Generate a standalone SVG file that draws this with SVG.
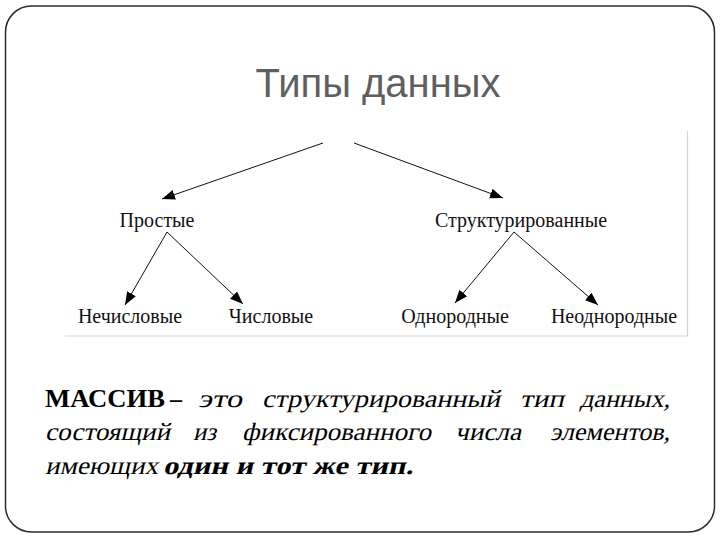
<svg xmlns="http://www.w3.org/2000/svg" width="720" height="540" viewBox="0 0 720 540">
<defs>
<style>
.frame{fill:#fff;stroke:#2b2b2b;stroke-width:1.5}
.title{font-family:"Liberation Sans",Arial,sans-serif;font-size:40px;fill:#5f5f5f}
.lbl{font-family:"Liberation Serif","Times New Roman",serif;font-size:20px;fill:#111;text-anchor:middle}
.edge{stroke:#111;stroke-width:1;fill:none;marker-end:url(#arr)}
.w{font-family:"Liberation Serif","Times New Roman",serif;font-size:25px;fill:#000}
.b{font-weight:bold}
</style>
<marker id="arr" markerUnits="userSpaceOnUse" markerWidth="14" markerHeight="12" refX="13" refY="5" orient="auto" viewBox="0 0 14 10">
<path d="M0,0 L13,5 L0,10 Z" fill="#000"/>
</marker>
</defs>
<rect class="frame" x="5.5" y="6" width="709" height="526" rx="26" ry="26"/>
<text class="title" x="378" y="97" text-anchor="middle">Типы данных</text>
<polyline points="65,336 687.5,336 687.5,131" fill="none" stroke="#d4d4d4" stroke-width="1.2"/>
<g id="connectors">
<line class="edge" x1="323" y1="143" x2="162" y2="199"/>
<line class="edge" x1="354" y1="143" x2="503" y2="198"/>
<line class="edge" x1="167" y1="232" x2="125" y2="305"/>
<line class="edge" x1="167" y1="232" x2="243" y2="304"/>
<line class="edge" x1="514" y1="232" x2="455" y2="303"/>
<line class="edge" x1="514" y1="232" x2="598" y2="305"/>
</g>
<g id="n-simple"><text class="lbl" x="157" y="227">Простые</text></g>
<g id="n-struct"><text class="lbl" x="521" y="227">Структурированные</text></g>
<g id="n-nonnum"><text class="lbl" x="130" y="323">Нечисловые</text></g>
<g id="n-num"><text class="lbl" x="271" y="323">Числовые</text></g>
<g id="n-homo"><text class="lbl" x="455" y="323">Однородные</text></g>
<g id="n-hetero"><text class="lbl" x="614" y="323">Неоднородные</text></g>
<g id="definition">
<text class="w b" x="45" y="407" textLength="120" lengthAdjust="spacingAndGlyphs">МАССИВ</text>
<text class="w b" x="170" y="407" textLength="12" lengthAdjust="spacingAndGlyphs">–</text>
<g transform="translate(0,407) skewX(-13)">
<text class="w" x="198" y="0" textLength="44" lengthAdjust="spacingAndGlyphs">это</text>
<text class="w" x="262" y="0" textLength="238" lengthAdjust="spacingAndGlyphs">структурированный</text>
<text class="w" x="520" y="0" textLength="44" lengthAdjust="spacingAndGlyphs">тип</text>
<text class="w" x="580" y="0" textLength="90" lengthAdjust="spacingAndGlyphs">данных,</text>
</g>
<g transform="translate(0,440) skewX(-13)">
<text class="w" x="45" y="0" textLength="125" lengthAdjust="spacingAndGlyphs">состоящий</text>
<text class="w" x="193" y="0" textLength="23" lengthAdjust="spacingAndGlyphs">из</text>
<text class="w" x="242" y="0" textLength="189" lengthAdjust="spacingAndGlyphs">фиксированного</text>
<text class="w" x="455" y="0" textLength="66" lengthAdjust="spacingAndGlyphs">числа</text>
<text class="w" x="550" y="0" textLength="120" lengthAdjust="spacingAndGlyphs">элементов,</text>
</g>
<g transform="translate(0,474) skewX(-13)">
<text class="w" x="45" y="0" textLength="113" lengthAdjust="spacingAndGlyphs">имеющих</text>
<text class="w b" x="163" y="0" textLength="250" lengthAdjust="spacingAndGlyphs">один и тот же тип.</text>
</g>
</g>
</svg>
